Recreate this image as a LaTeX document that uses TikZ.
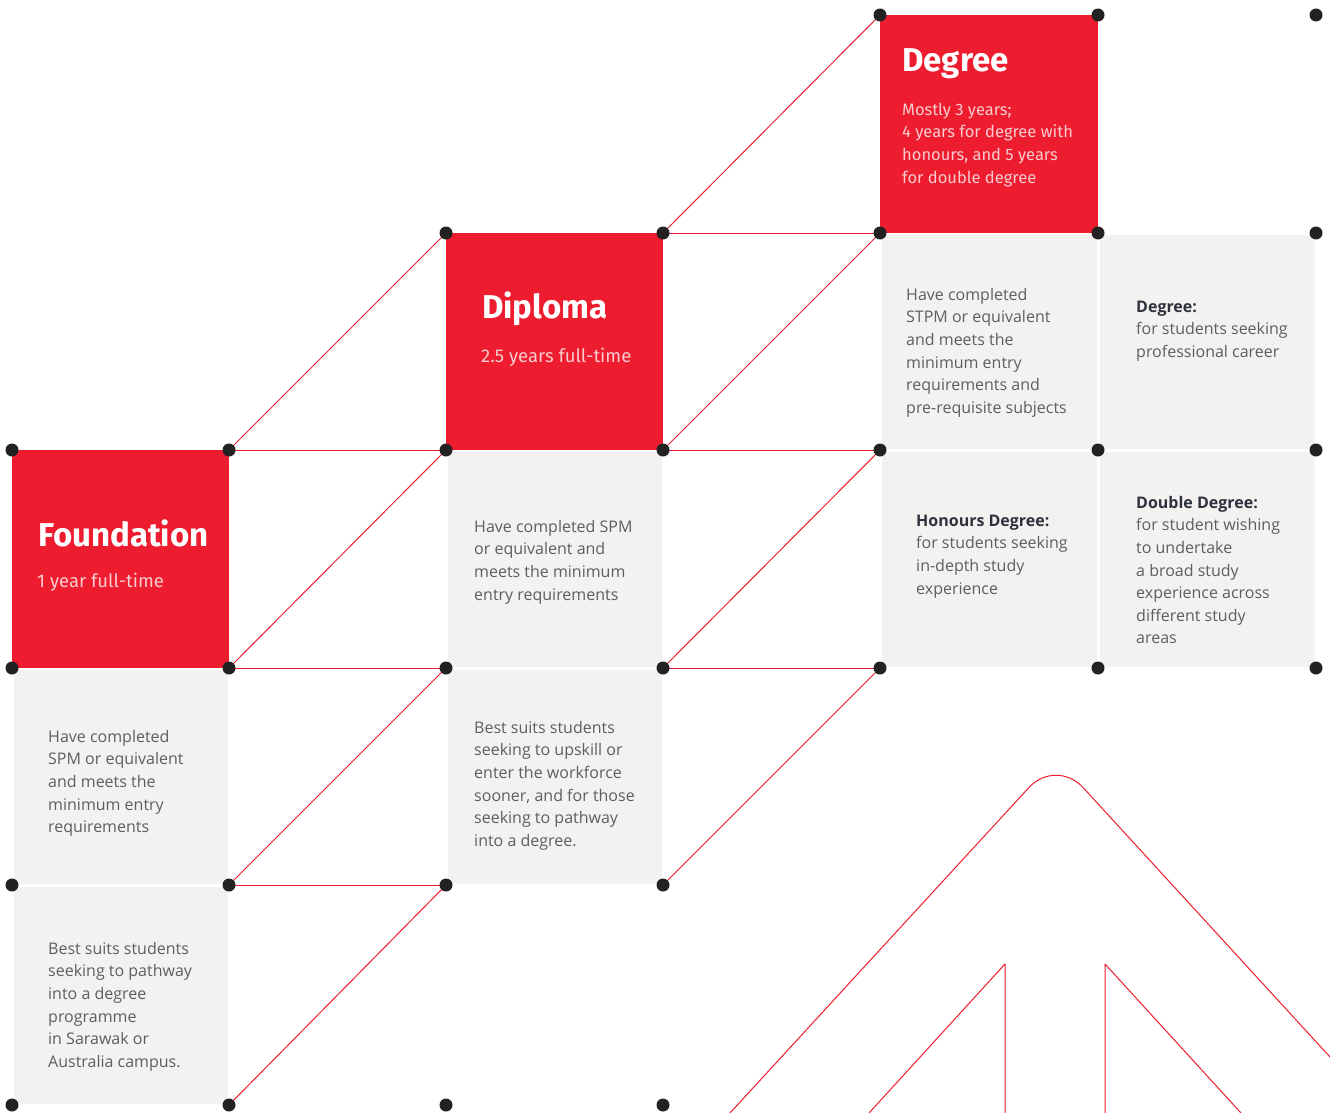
\documentclass[tikz,border=0pt]{standalone}
\usepackage{fontspec}
\setmainfont{Open Sans}
\newfontfamily\dinfont{Fira Sans}
\definecolor{cred}{HTML}{ED1C2E}
\definecolor{cgray}{HTML}{F3F2F1}
\definecolor{cdot}{HTML}{222222}
\definecolor{ctext}{HTML}{5E5E5E}
\definecolor{cbold}{HTML}{2E323C}
\definecolor{cpink}{HTML}{F9CBCF}
\newcommand{\fstrut}{\rule{0pt}{13pt}}
\newcommand{\rstrut}{\rule{0pt}{14pt}}
\tikzset{
  gdot/.style={circle,fill=cdot,inner sep=0pt,minimum size=13pt},
  redlink/.style={draw=cred,line width=1pt},
  redcell/.style={fill=cred},
  graycell/.style={fill=cgray},
  ptitle/.style={anchor=base west,inner sep=0pt,text=white,font=\dinfont\bfseries\fontsize{33}{38}\selectfont},
  psub/.style={anchor=north west,inner sep=0pt,text=cpink,align=left,font=\dinfont\fontsize{16.5}{22.6}\selectfont},
  psubbig/.style={psub,font=\dinfont\fontsize{18.5}{22.6}\selectfont},
  pbody/.style={anchor=north west,inner sep=0pt,text=ctext,align=left,font=\fontsize{16}{22.6}\selectfont},
  deco/.style={draw=cred,line width=1pt,line join=round},
}
\begin{document}
\begin{tikzpicture}[x=1pt,y=-1pt]
\useasboundingbox (0,0) rectangle (1330,1113);
% grid coordinates
\foreach \c/\xx in {0/12,1/229,2/446,3/663,4/880,5/1098,6/1316}{
  \foreach \r/\yy in {0/15,1/233,2/450,3/668,4/885,5/1105}{
    \coordinate (p\c\r) at (\xx,\yy);
  }
}
% red cells
\fill[redcell] (p40) rectangle (p51);
\fill[redcell] (p21) rectangle (p32);
\fill[redcell] (p02) rectangle (p13);
% gray cells
\foreach \a/\b in {03/14,04/15,22/33,23/34,41/52,42/53,51/62,52/63}{
  \fill[graycell] ([shift={(1.5,1.5)}]p\a) rectangle ([shift={(-1.5,-1.5)}]p\b);
}
% connectors
\foreach \a/\b in {12/21,31/40,13/22,32/41,14/23,33/42,15/24,34/43,
                   12/22,31/41,13/23,32/42,14/24,33/43}{
  \draw[redlink] (p\a) -- (p\b);
}
% decoration
\coordinate (apex) at (1056,758);
\coordinate (legL) at (730,1113);
\coordinate (legR) at (1330,1057);
\coordinate (inL) at (1005,964);
\coordinate (inR) at (1105,964);
\draw[deco,rounded corners=40pt] (legL) -- (apex) -- (legR);
\draw[deco] (869,1113) -- (inL) -- (1005,1113);
\draw[deco] (1241,1113) -- (inR) -- (1105,1113);
% dots
\foreach \p in {40,50,60,21,31,41,51,61,02,12,22,32,42,52,62,03,13,23,33,43,53,63,04,14,24,34,05,15,25,35}{
  \node[gdot] (d\p) at (p\p) {};
}
% red cell texts
\node[ptitle] (tdeg) at (902,72) {Degree};
\node[psub] (sdeg) at (902,101) {\rstrut Mostly 3 years;\\4 years for degree with\\honours, and 5 years\\for double degree};
\node[ptitle] (tdip) at (482,318) {Diploma};
\node[psubbig] (sdip) at (481,348) {\rstrut 2.5 years full-time};
\node[ptitle] (tfou) at (38,546) {Foundation};
\node[psubbig] (sfou) at (37,573) {\rstrut 1 year full-time};
% gray cell texts
\node[pbody] (f1) at (48,729) {\fstrut Have completed\\SPM or equivalent\\and meets the\\minimum entry\\requirements};
\node[pbody] (f2) at (48,941) {\fstrut Best suits students\\seeking to pathway\\into a degree\\programme\\in Sarawak or\\Australia campus.};
\node[pbody] (d1) at (474,519) {\fstrut Have completed SPM\\or equivalent and\\meets the minimum\\entry requirements};
\node[pbody] (d2) at (474,720) {\fstrut Best suits students\\seeking to upskill or\\enter the workforce\\sooner, and for those\\seeking to pathway\\into a degree.};
\node[pbody] (g1) at (906,287) {\fstrut Have completed\\STPM or equivalent\\and meets the\\minimum entry\\requirements and\\pre-requisite subjects};
\node[pbody] (g2) at (1136,299) {\fstrut\textcolor{cbold}{\bfseries Degree:}\\for students seeking\\professional career};
\node[pbody] (g3) at (916,513) {\fstrut\textcolor{cbold}{\bfseries Honours Degree:}\\for students seeking\\in-depth study\\experience};
\node[pbody] (g4) at (1136,495) {\fstrut\textcolor{cbold}{\bfseries Double Degree:}\\for student wishing\\to undertake\\a broad study\\experience across\\different study\\areas};
\end{tikzpicture}
\end{document}
